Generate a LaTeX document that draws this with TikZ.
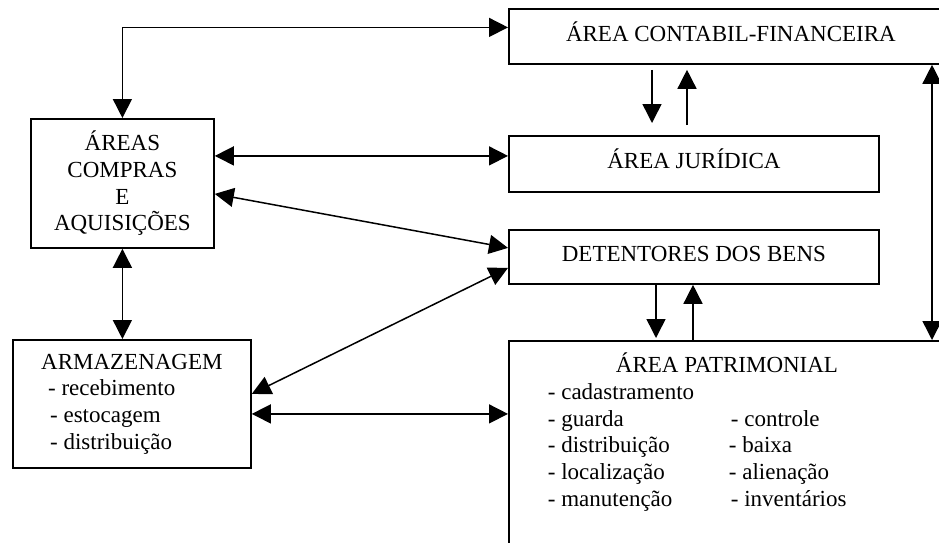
\documentclass[tikz,border=0pt]{standalone}
\usepackage{fontspec}
\setmainfont{Liberation Serif}
\usetikzlibrary{arrows.meta}

\begin{document}
\begin{tikzpicture}[x=1pt,y=-1pt,
  >={Triangle[length=19pt,width=19pt]},
  every node/.style={font=\fontsize{23}{26.7}\selectfont},
  area/.style={draw,line width=1.8pt,inner sep=0pt,anchor=north west},
  single/.style={area,text height=16pt,text depth=6pt},
  flow/.style={->,line width=1.5pt},
  link/.style={<->,line width=1.5pt}]
  \useasboundingbox (0,0) rectangle (939,542);
  \clip (0,0) rectangle (939,542);
  % right column
  \node[single,minimum width=444pt,minimum height=55pt] (contabil) at (508,8) {ÁREA CONTABIL-FINANCEIRA};
  \node[single,minimum width=370pt,minimum height=56pt] (juridica) at (508,135) {ÁREA JURÍDICA};
  \node[single,minimum width=370pt,minimum height=54pt] (detentores) at (508,229) {DETENTORES DOS BENS};
  \node[area,inner ysep=12pt] (patrimonial) at (508,340) {\parbox[t][200pt][t]{444pt}{%
    \hspace*{107pt}ÁREA PATRIMONIAL\\
    \hspace*{39pt}- cadastramento\\
    \hspace*{39pt}\makebox[183pt][l]{- guarda}- controle\\
    \hspace*{39pt}\makebox[181pt][l]{- distribuição}- baixa\\
    \hspace*{39pt}\makebox[181pt][l]{- localização}- alienação\\
    \hspace*{39pt}\makebox[183pt][l]{- manutenção}- inventários}};
  % left column
  \node[area,minimum width=183pt,minimum height=129pt,align=center] (compras) at (30,118) {ÁREAS\\COMPRAS\\E\\AQUISIÇÕES};
  \node[area,minimum width=238pt,minimum height=128pt,align=left] (armazenagem) at (12,339)
    {ARMAZENAGEM\\\hspace*{7pt}- recebimento\\\hspace*{9pt}- estocagem\\\hspace*{9pt}- distribuição};
  % connectors
  \coordinate (jl) at ([yshift=8pt]juridica.west);
  \coordinate (al) at ([yshift=-10pt]armazenagem.east);
  \draw[link] (compras.north) |- ([yshift=9pt]contabil.west);
  \draw[link] (compras.east |- jl) -- (jl);
  \draw[link] ([yshift=-10.5pt]compras.east) -- ([yshift=9pt]detentores.west);
  \draw[link] (compras.south) -- (compras.south |- armazenagem.north);
  \draw[link] ([yshift=10pt]armazenagem.east) -- ([yshift=-11pt]detentores.west);
  \draw[link] (al) -- (al -| patrimonial.west);
  \draw[flow] ([xshift=144pt,yshift=-5pt]contabil.south west) -- ([xshift=144pt,yshift=12pt]juridica.north west);
  \draw[flow] ([xshift=179pt,yshift=10pt]juridica.north west) -- ([xshift=179pt,yshift=-5pt]contabil.south west);
  \draw[flow] ([xshift=148pt]detentores.south west) -- ([xshift=148pt,yshift=2pt]patrimonial.north west);
  \draw[flow] ([xshift=185pt]patrimonial.north west) -- ([xshift=185pt]detentores.south west);
  \draw[link] ([xshift=424pt]contabil.south west) -- ([xshift=424pt]patrimonial.north west);
\end{tikzpicture}
\end{document}
